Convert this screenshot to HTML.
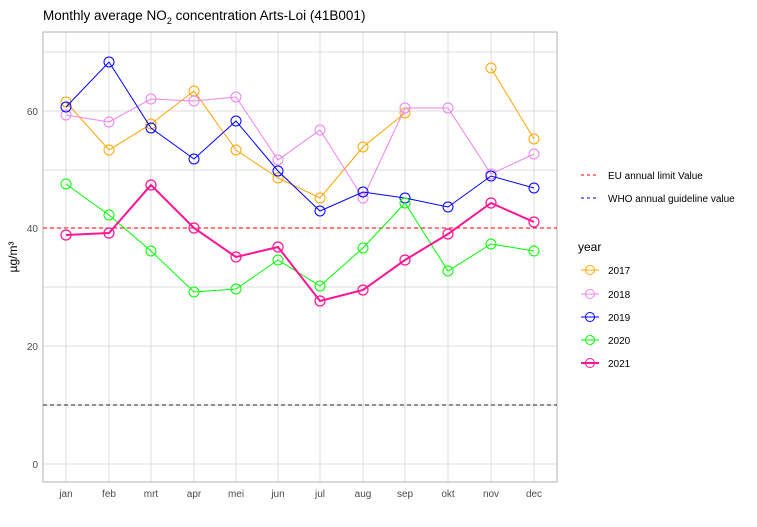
<!DOCTYPE html><html><head><style>body{margin:0;background:#fff}svg{display:block;font-family:"Liberation Sans",sans-serif}</style></head><body>
<svg width="757" height="527" xmlns="http://www.w3.org/2000/svg">
<rect width="757" height="527" fill="#fff"/>
<text x="43" y="20" font-size="13.5" fill="#000">Monthly average NO<tspan font-size="9" dy="4">2</tspan><tspan dy="-4"> concentration Arts-Loi (41B001)</tspan></text>
<g stroke="#dcdcdc" stroke-width="1">
<line x1="43" x2="557" y1="52" y2="52"/><line x1="43" x2="557" y1="111" y2="111"/><line x1="43" x2="557" y1="170" y2="170"/><line x1="43" x2="557" y1="228" y2="228"/><line x1="43" x2="557" y1="287" y2="287"/><line x1="43" x2="557" y1="346" y2="346"/><line x1="43" x2="557" y1="405" y2="405"/><line x1="43" x2="557" y1="464" y2="464"/>
<line y1="32" y2="482" x1="66" x2="66"/><line y1="32" y2="482" x1="109" x2="109"/><line y1="32" y2="482" x1="151" x2="151"/><line y1="32" y2="482" x1="194" x2="194"/><line y1="32" y2="482" x1="236" x2="236"/><line y1="32" y2="482" x1="278" x2="278"/><line y1="32" y2="482" x1="320" x2="320"/><line y1="32" y2="482" x1="363" x2="363"/><line y1="32" y2="482" x1="405" x2="405"/><line y1="32" y2="482" x1="448" x2="448"/><line y1="32" y2="482" x1="491" x2="491"/><line y1="32" y2="482" x1="534" x2="534"/>
</g>
<rect x="43" y="32" width="514" height="450" fill="none" stroke="#b3b3b3" stroke-width="1"/>
<g font-size="10" fill="#4d4d4d" text-anchor="end"><text x="38" y="115">60</text><text x="38" y="232">40</text><text x="38" y="350">20</text><text x="38" y="468">0</text></g>
<g font-size="10" fill="#4d4d4d" text-anchor="middle"><text x="66" y="497">jan</text><text x="109" y="497">feb</text><text x="151" y="497">mrt</text><text x="194" y="497">apr</text><text x="236" y="497">mei</text><text x="278" y="497">jun</text><text x="320" y="497">jul</text><text x="363" y="497">aug</text><text x="405" y="497">sep</text><text x="448" y="497">okt</text><text x="491" y="497">nov</text><text x="534" y="497">dec</text></g>
<text transform="translate(17,257) rotate(-90)" font-size="12" text-anchor="middle" fill="#000">µg/m³</text>
<line x1="43" x2="557" y1="228" y2="228" stroke="#f00" stroke-dasharray="4,3"/>
<line x1="43" x2="557" y1="405" y2="405" stroke="#222" stroke-dasharray="4,3"/>
<g fill="none">
<g stroke="orange"><polyline points="66,102 109,150 151,124 194,91 236,150 278,178 320,198 363,147 405,113"/><polyline points="491,68 534,139"/>
<circle cx="66" cy="102" r="5"/><circle cx="109" cy="150" r="5"/><circle cx="151" cy="124" r="5"/><circle cx="194" cy="91" r="5"/><circle cx="236" cy="150" r="5"/><circle cx="278" cy="178" r="5"/><circle cx="320" cy="198" r="5"/><circle cx="363" cy="147" r="5"/><circle cx="405" cy="113" r="5"/><circle cx="491" cy="68" r="5"/><circle cx="534" cy="139" r="5"/></g>
<g stroke="violet"><polyline points="66,115 109,122 151,99 194,101 236,97 278,160 320,130 363,198 405,108 448,108 491,174 534,154"/>
<circle cx="66" cy="115" r="5"/><circle cx="109" cy="122" r="5"/><circle cx="151" cy="99" r="5"/><circle cx="194" cy="101" r="5"/><circle cx="236" cy="97" r="5"/><circle cx="278" cy="160" r="5"/><circle cx="320" cy="130" r="5"/><circle cx="363" cy="198" r="5"/><circle cx="405" cy="108" r="5"/><circle cx="448" cy="108" r="5"/><circle cx="491" cy="174" r="5"/><circle cx="534" cy="154" r="5"/></g>
<g stroke="#00f"><polyline points="66,107 109,62 151,128 194,159 236,121 278,171 320,211 363,192 405,198 448,207 491,176 534,188"/>
<circle cx="66" cy="107" r="5"/><circle cx="109" cy="62" r="5"/><circle cx="151" cy="128" r="5"/><circle cx="194" cy="159" r="5"/><circle cx="236" cy="121" r="5"/><circle cx="278" cy="171" r="5"/><circle cx="320" cy="211" r="5"/><circle cx="363" cy="192" r="5"/><circle cx="405" cy="198" r="5"/><circle cx="448" cy="207" r="5"/><circle cx="491" cy="176" r="5"/><circle cx="534" cy="188" r="5"/></g>
<g stroke="#0f0"><polyline points="66,184 109,215 151,251 194,292 236,289 278,260 320,286 363,248 405,203 448,271 491,244 534,251"/>
<circle cx="66" cy="184" r="5"/><circle cx="109" cy="215" r="5"/><circle cx="151" cy="251" r="5"/><circle cx="194" cy="292" r="5"/><circle cx="236" cy="289" r="5"/><circle cx="278" cy="260" r="5"/><circle cx="320" cy="286" r="5"/><circle cx="363" cy="248" r="5"/><circle cx="405" cy="203" r="5"/><circle cx="448" cy="271" r="5"/><circle cx="491" cy="244" r="5"/><circle cx="534" cy="251" r="5"/></g>
<g stroke="#ff1493" stroke-width="2"><polyline points="66,235 109,233 151,185 194,228 236,257 278,247 320,301 363,290 405,260 448,234 491,203 534,222"/></g>
<g stroke="#ff1493" stroke-width="1.2"><circle cx="66" cy="235" r="5"/><circle cx="109" cy="233" r="5"/><circle cx="151" cy="185" r="5"/><circle cx="194" cy="228" r="5"/><circle cx="236" cy="257" r="5"/><circle cx="278" cy="247" r="5"/><circle cx="320" cy="301" r="5"/><circle cx="363" cy="290" r="5"/><circle cx="405" cy="260" r="5"/><circle cx="448" cy="234" r="5"/><circle cx="491" cy="203" r="5"/><circle cx="534" cy="222" r="5"/></g>
</g>
<line x1="581" x2="599" y1="175" y2="175" stroke="#f00" stroke-dasharray="3,3"/>
<line x1="581" x2="599" y1="198" y2="198" stroke="#00c" stroke-dasharray="3,3"/>
<g font-size="10" fill="#000"><text x="608" y="179">EU annual limit Value</text><text x="608" y="202">WHO annual guideline value</text></g>
<text x="578" y="251" font-size="12" fill="#000">year</text>
<g fill="none" font-size="10">
<g stroke="orange"><line x1="581" x2="599" y1="270" y2="270"/><circle cx="590" cy="270" r="4.5"/></g>
<g stroke="violet"><line x1="581" x2="599" y1="294" y2="294"/><circle cx="590" cy="294" r="4.5"/></g>
<g stroke="#00f"><line x1="581" x2="599" y1="317" y2="317"/><circle cx="590" cy="317" r="4.5"/></g>
<g stroke="#0f0"><line x1="581" x2="599" y1="340" y2="340"/><circle cx="590" cy="340" r="4.5"/></g>
<g stroke="#ff1493"><line x1="581" x2="599" y1="363" y2="363" stroke-width="2"/><circle cx="590" cy="363" r="4.5"/></g>
</g>
<g font-size="10" fill="#000"><text x="608" y="274">2017</text><text x="608" y="298">2018</text><text x="608" y="321">2019</text><text x="608" y="344">2020</text><text x="608" y="367">2021</text></g>
</svg></body></html>
